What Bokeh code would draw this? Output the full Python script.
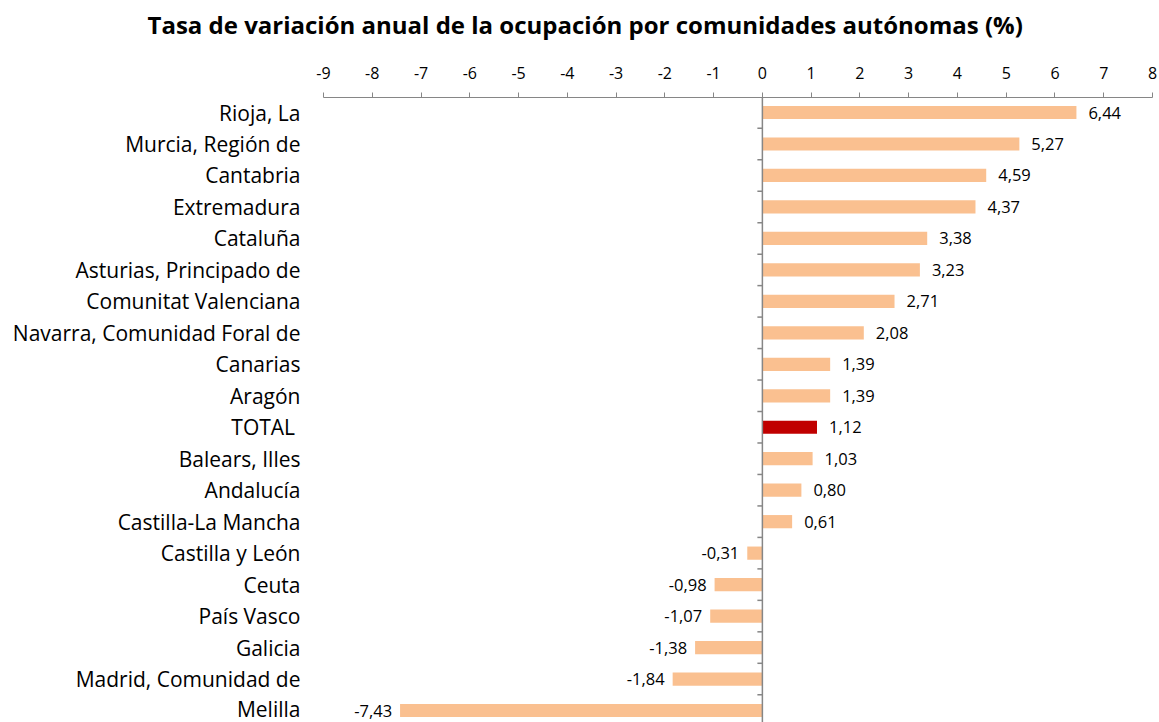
from bokeh.plotting import figure
from bokeh.models import ColumnDataSource, FixedTicker, Span, Title
from bokeh.core.properties import value
from bokeh.embed import file_html
from bokeh.resources import INLINE

categories = ["Rioja, La", "Murcia, Región de", "Cantabria", "Extremadura", "Cataluña",
              "Asturias, Principado de", "Comunitat Valenciana", "Navarra, Comunidad Foral de",
              "Canarias", "Aragón", "TOTAL ", "Balears, Illes", "Andalucía", "Castilla-La Mancha",
              "Castilla y León", "Ceuta", "País Vasco", "Galicia", "Madrid, Comunidad de", "Melilla"]
values = [6.44, 5.27, 4.59, 4.37, 3.38, 3.23, 2.71, 2.08, 1.39, 1.39, 1.12, 1.03, 0.80, 0.61,
          -0.31, -0.98, -1.07, -1.38, -1.84, -7.43]
x_ticks = list(range(-9, 9))

n = len(categories)
ypos = [n - 1 - i for i in range(n)]
colors = ["#C00000" if c.strip() == "TOTAL" else "#FAC090" for c in categories]
labels = [f"{v:.2f}".replace(".", ",") for v in values]

FONT = "Open Sans"

p = figure(width=1159, height=722, output_backend="svg", toolbar_location=None,
           x_range=(-9, 8), y_range=(-0.381, n - 1 + 0.477),
           x_axis_location="above",
           min_border_left=323, min_border_right=7, min_border_top=97, min_border_bottom=0)
# spacer between axis and title
p.add_layout(Title(text=" ", text_font_size="5px"), "above")
p.title.text = "Tasa de variación anual de la ocupación por comunidades autónomas (%)"
p.title.text_font = FONT
p.title.text_font_size = "24px"
p.title.text_font_style = "bold"
p.title.align = "left"
p.title.offset = -176
p.title.text_color = "#000000"
p.outline_line_color = None
p.xgrid.visible = False
p.ygrid.visible = False
p.background_fill_color = "white"
p.border_fill_color = "white"

# x axis (above)
xa = p.xaxis[0]
xa.ticker = FixedTicker(ticks=x_ticks)
xa.major_label_overrides = {t: str(t) for t in x_ticks}
xa.minor_tick_line_color = None
xa.major_tick_in = 0
xa.major_tick_out = 5
xa.axis_line_color = "#868686"
xa.major_tick_line_color = "#868686"
xa.major_label_text_font = FONT
xa.major_label_text_font_size = "16px"
xa.major_label_text_color = "#000000"
xa.major_label_standoff = 14

# y axis (category labels on the left)
ya = p.yaxis[0]
ya.ticker = FixedTicker(ticks=ypos)
ya.major_label_overrides = {y: c for y, c in zip(ypos, categories)}
ya.axis_line_color = None
ya.major_tick_line_color = None
ya.minor_tick_line_color = None
ya.major_label_text_font = FONT
ya.major_label_text_font_size = "21px"
ya.major_label_text_color = "#000000"
ya.major_label_standoff = 17

src = ColumnDataSource(dict(y=ypos, v=values, c=colors, lab=labels,
                            align=["left" if v >= 0 else "right" for v in values],
                            off=[12 if v >= 0 else -8 for v in values]))

p.hbar(y="y", left=0, right="v", height=0.42, fill_color="c", line_color=None, source=src)

# vertical zero axis with ticks between categories
p.add_layout(Span(location=0, dimension="height", line_color="#868686", line_width=1.5))
bounds = [k + 0.5 for k in range(-1, n - 1)]
tick_len = 5 / 48.8
p.segment(x0=[-tick_len] * len(bounds), x1=[0] * len(bounds), y0=bounds, y1=bounds,
          line_color="#868686", line_width=1.5)

p.text(x="v", y="y", text="lab", x_offset="off", text_align="align", text_baseline="middle",
       text_font=value(FONT), text_font_size="16.5px", text_color="#000000", source=src)

open("out.html", "w").write(file_html(p, INLINE))
